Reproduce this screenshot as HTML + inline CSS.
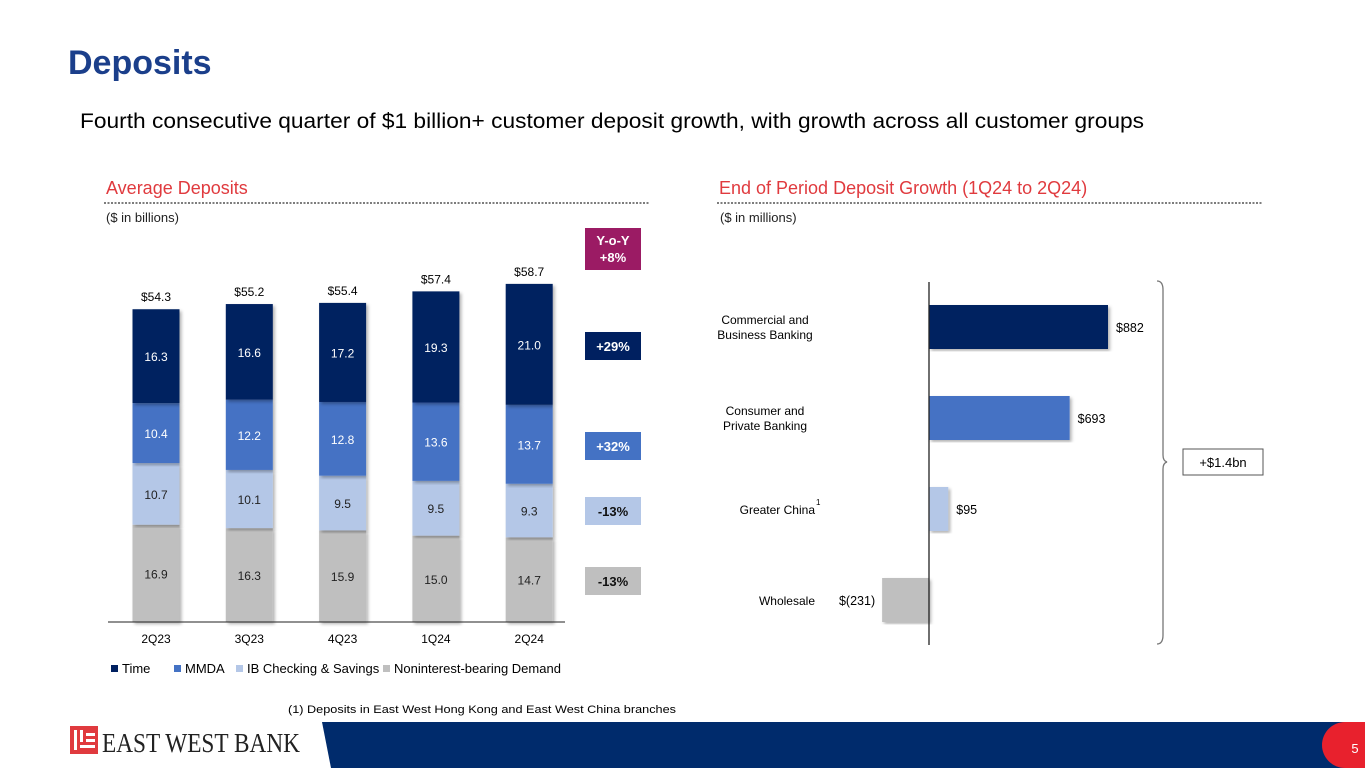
<!DOCTYPE html>
<html><head><meta charset="utf-8">
<style>
html,body{margin:0;padding:0;background:#fff;}
body{width:1365px;height:768px;position:relative;overflow:hidden;font-family:"Liberation Sans",Arial,sans-serif;}
svg text{font-family:"Liberation Sans",Arial,sans-serif;}
</style></head>
<body>
<svg id="s" width="1365" height="768" viewBox="0 0 1365 768">
  <defs>
    <filter id="sh" x="-20%" y="-5%" width="140%" height="110%">
      <feDropShadow dx="2" dy="2" stdDeviation="1.5" flood-color="#000" flood-opacity="0.3"/>
    </filter>
  </defs>
  <text x="68" y="74" font-size="34" font-weight="bold" fill="#1b3f8b">Deposits</text>
  <text x="80" y="128" font-size="21.5" fill="#000" textLength="1064" lengthAdjust="spacingAndGlyphs">Fourth consecutive quarter of $1 billion+ customer deposit growth, with growth across all customer groups</text>

  <text x="106" y="194" font-size="18" fill="#e03a3e">Average Deposits</text>
  <line x1="104" y1="203" x2="650" y2="203" stroke="#7d7d7d" stroke-width="2" stroke-dasharray="2,1.5"/>
  <text x="106" y="222" font-size="13" fill="#222">($ in billions)</text>

  <text x="719" y="194" font-size="18" fill="#e03a3e">End of Period Deposit Growth (1Q24 to 2Q24)</text>
  <line x1="717" y1="203" x2="1262" y2="203" stroke="#7d7d7d" stroke-width="2" stroke-dasharray="2,1.5"/>
  <text x="720" y="222" font-size="13" fill="#222">($ in millions)</text>

  <g id="left"></g>
  <g id="right"></g>

  <rect x="585" y="228" width="56" height="42" fill="#9b1b64"/>
  <text x="613" y="245" font-size="13" font-weight="bold" fill="#fff" text-anchor="middle">Y-o-Y</text>
  <text x="613" y="262" font-size="13" font-weight="bold" fill="#fff" text-anchor="middle">+8%</text>
  <g id="pct"></g>

  <path d="M1157,281 Q1163,281 1163,290 L1163,455 Q1163,461 1167,462 Q1163,463 1163,469 L1163,635 Q1163,644 1157,644" fill="none" stroke="#777" stroke-width="1.3"/>
  <rect x="1183" y="449" width="80" height="26" fill="#fff" stroke="#555" stroke-width="1"/>
  <text x="1223" y="467" font-size="13" fill="#000" text-anchor="middle">+$1.4bn</text>

  <text x="288" y="713" font-size="11" fill="#000" textLength="388" lengthAdjust="spacingAndGlyphs">(1)    Deposits in East West Hong Kong and East West China branches</text>
  <path d="M322,722 L1365,722 L1365,768 L331,768 Z" fill="#002b6c"/>
  <path d="M1345,722 L1365,722 L1365,768 L1345,768 A23,23 0 0 1 1345,722 Z" fill="#e8212d"/>
  <text x="1355" y="753" font-size="13" fill="#fff" text-anchor="middle">5</text>
  <g>
    <rect x="70" y="726" width="28" height="28" fill="#e03a3e"/>
    <rect x="74" y="730" width="3" height="20" fill="#fff"/>
    <rect x="80" y="730" width="3" height="12" fill="#fff"/>
    <rect x="86" y="733" width="9" height="3" fill="#fff"/>
    <rect x="86" y="739" width="9" height="3" fill="#fff"/>
    <rect x="80" y="745" width="15" height="3" fill="#fff"/>
    <text x="102" y="752" font-size="27" fill="#222" textLength="198" lengthAdjust="spacingAndGlyphs" style="font-family:'Liberation Serif',serif">EAST WEST BANK</text>
  </g>
</svg>
<script>
var NS='http://www.w3.org/2000/svg';
var quarters=['2Q23','3Q23','4Q23','1Q24','2Q24'];
var nonint=[16.9,16.3,15.9,15.0,14.7];
var ibcheck=[10.7,10.1,9.5,9.5,9.3];
var mmda=[10.4,12.2,12.8,13.6,13.7];
var timeDep=[16.3,16.6,17.2,19.3,21.0];
var totals=['$54.3','$55.2','$55.4','$57.4','$58.7'];
var legendNames=['Time','MMDA','IB Checking & Savings','Noninterest-bearing Demand'];
var yoyLabels=['+29%','+32%','-13%','-13%'];
var groups=['Commercial and|Business Banking','Consumer and|Private Banking','Greater China','Wholesale'];
var growth=[882,693,95,-231];
var growthLabels=['$882','$693','$95','$(231)'];

function el(t,a,p){var e=document.createElementNS(NS,t);for(var k in a)e.setAttribute(k,a[k]);p.appendChild(e);return e;}
function txt(x,y,s,sz,fill,anchor,p){var e=el('text',{x:x,y:y,'font-size':sz,fill:fill,'text-anchor':anchor||'middle'},p);e.textContent=s;return e;}

var L=document.getElementById('left');
var base=622, ppu=5.76, x0=156, step=93.3, bw=47;
function yS(v){return base-v*ppu;}
function xC(i){return x0+i*step;}
var series=[nonint,ibcheck,mmda,timeDep];
var colors=['#bfbfbf','#b4c7e7','#4472c4','#002060'];
var tcol=['#222','#222','#fff','#fff'];
var segNames=['noninterest-segment','ib-checking-segment','mmda-segment','time-segment'];
for(var i=0;i<quarters.length;i++){
  var cum=0;
  for(var s=0;s<4;s++){
    var v=series[s][i];
    var r=el('rect',{x:xC(i)-bw/2,y:yS(cum+v),width:bw,height:v*ppu,fill:colors[s],filter:'url(#sh)'},L);
    
    
    var t=txt(xC(i),yS(cum+v/2)+5,v.toFixed(1),12,tcol[s],'middle',L);
    
    
    cum+=v;
  }
  var tt=txt(xC(i),yS(cum)-8,totals[i],12,'#000','middle',L);
  
  
  var xl=txt(xC(i),643,quarters[i],12,'#000','middle',L);
  
  
}
var ax=el('line',{x1:108,y1:base,x2:565,y2:base,stroke:'#222','stroke-width':1},L);


var lx=[111,174,236,383], lc=['#002060','#4472c4','#b4c7e7','#bfbfbf'];
for(var k=0;k<4;k++){
  var g=el('g',{},L);
  
  
  el('rect',{x:lx[k],y:665,width:7,height:7,fill:lc[k]},g);
  txt(lx[k]+11,673,legendNames[k],13,'#000','start',g);
}
var P=document.getElementById('pct');
var py=[332,432,497,567], pc=['#002060','#4472c4','#b4c7e7','#bfbfbf'], ptc=['#fff','#fff','#111','#111'];
for(var k=0;k<4;k++){
  var r=el('rect',{x:585,y:py[k],width:56,height:28,fill:pc[k]},P);
  
  
  var t=txt(613,py[k]+19,yoyLabels[k],13,ptc[k],'middle',P);
  t.setAttribute('font-weight','bold');
  
  
}

var R=document.getElementById('right');
var zx=929, sc=179/882, y0=327, gstep=91, bh=44;
function xR(v){return zx+v*sc;}
var rc=['#002060','#4472c4','#b4c7e7','#bfbfbf'];
for(var i=0;i<groups.length;i++){
  var cy=y0+i*gstep, v=growth[i];
  var r=el('rect',{x:Math.min(xR(0),xR(v)),y:cy-bh/2,width:Math.abs(xR(v)-xR(0)),height:bh,fill:rc[i],filter:'url(#sh)'},R);
  
  
  var lab;
  if(v>=0) lab=txt(xR(v)+8,cy+5,growthLabels[i],12.5,'#000','start',R);
  else lab=txt(xR(v)-7,cy+5,growthLabels[i],12.5,'#000','end',R);
  
  
  var parts=groups[i].split('|');
  var cat=el('g',{},R);
  
  
  if(parts.length==2){
    txt(765,cy-3,parts[0],12,'#000','middle',cat);
    txt(765,cy+12,parts[1],12,'#000','middle',cat);
  } else {
    txt(815,cy+5,parts[0],12,'#000','end',cat);
    if(i==2) txt(816,cy-4,'1',8,'#000','start',cat);
  }
}
var za=el('line',{x1:zx,y1:282,x2:zx,y2:645,stroke:'#222','stroke-width':1.3},R);


</script>
</body></html>
